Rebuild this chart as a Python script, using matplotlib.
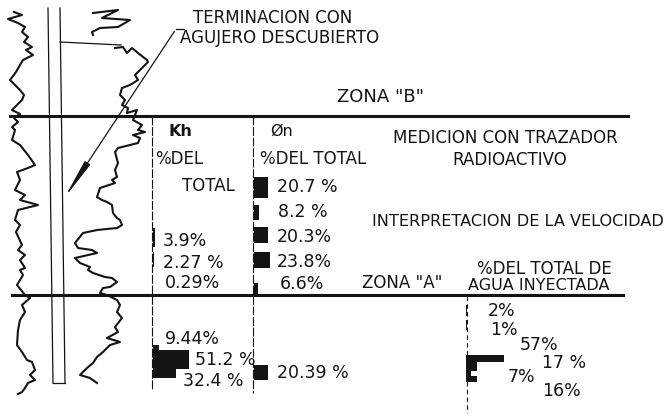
import matplotlib.pyplot as plt
from matplotlib.patches import FancyArrowPatch

# profundidad en px del esquema (0 arriba)
# registro izquierdo
log1_depth = [12, 15, 19, 23, 27, 32, 37, 42, 47, 50, 55, 60, 65, 72, 80, 85, 90, 95, 100, 106,
              110, 114, 118, 122, 127, 130, 140, 145, 155, 165, 168, 172, 180, 190, 195, 200,
              205, 210, 220, 225, 232, 245, 250, 255, 260, 268, 270, 275, 285, 295, 298, 305,
              312, 320, 330, 345, 352, 360, 362, 370, 375, 380, 383, 388, 392, 394]
log1_value = [14, 22, 8, 18, 25, 22, 28, 24, 32, 26, 33, 23, 20, 16, 10, 15, 20, 24, 22, 16,
              12, 20, 14, 18, 12, 15, 12, 20, 28, 35, 28, 17, 20, 15, 25, 20,
              38, 18, 15, 20, 16, 22, 18, 25, 20, 25, 20, 23, 17, 25, 30, 22,
              25, 20, 18, 17, 22, 27, 32, 35, 30, 35, 28, 25, 22, 18]

# registro derecho (tramo superior)
log2a_depth = [13, 10, 18, 20, 27, 28, 32, 35]
log2a_value = [93, 118, 102, 130, 118, 100, 92, 93]

# registro derecho (tramo principal)
log2_depth = [48, 47, 53, 48, 53, 60, 62, 70, 75, 80, 85, 88, 95, 100, 105, 108, 113, 110,
              120, 125, 130, 132, 135, 138, 143, 148, 152, 163, 170, 177, 180, 183, 188,
              197, 200, 202, 205, 213, 218, 220, 225, 228, 230, 233, 243, 248, 250, 253,
              258, 263, 267, 270, 273, 277, 278, 282, 287, 288, 293, 295, 300, 305, 312,
              318, 327, 332, 338, 342, 345, 352, 357, 363, 368, 375, 378, 383]
log2_value = [115, 123, 127, 132, 138, 147, 148, 140, 135, 138, 130, 122, 120, 125, 122, 128,
              127, 137, 133, 142, 138, 145, 133, 140, 138, 118, 115, 118, 115, 117, 112, 115,
              100, 97, 102, 107, 112, 113, 117, 120, 122, 117, 97, 83, 75, 78, 92, 97,
              75, 80, 90, 88, 93, 105, 112, 117, 110, 103, 100, 107, 117, 120, 117,
              122, 115, 118, 107, 120, 110, 103, 97, 93, 87, 80, 90, 97]

# Kh, % del total
kh_vals = [3.9, 2.27, 0.29, 9.44, 51.2, 32.4]
kh_top = [228, 252, 273, 345, 350, 369]
kh_bot = [247, 267, 278, 350, 369, 378]
kh_labels = ["3.9%", "2.27 %", "0.29%", "9.44%", "51.2 %", "32.4 %"]

# Øn, % del total
on_vals = [20.7, 8.2, 20.3, 23.8, 6.6, 20.39]
on_top = [177, 205, 227, 252, 283, 365]
on_bot = [198, 220, 243, 268, 294, 380]
on_labels = ["20.7 %", "8.2 %", "20.3%", "23.8%", "6.6%", "20.39 %"]

# % del total de agua inyectada
agua_vals = [2, 1, 57, 17, 7, 16]
agua_top = [305, 320, 355, 362, 371, 376]
agua_bot = [316, 330, 362, 371, 376, 382]
agua_labels = ["2%", "1%", "57%", "17 %", "7%", "16%"]

K = '#141414'
plt.rcParams['font.family'] = ['DejaVu Sans']

fig = plt.figure(figsize=(6.65, 4.18), dpi=100)
ax = fig.add_axes([0, 0, 1, 1])
ax.set_xlim(0, 665)
ax.set_ylim(418, 0)
ax.axis('off')

# registros
ax.plot(log1_value, log1_depth, color=K, lw=1.5)
ax.plot(log2a_value, log2a_depth, color=K, lw=1.5)
ax.plot(log2_value, log2_depth, color=K, lw=1.5)

# pozo
ax.plot([48, 53], [8, 383], color=K, lw=0.9)
ax.plot([60, 65], [8, 383], color=K, lw=0.9)
ax.plot([53, 65], [383, 383], color=K, lw=0.9)
ax.plot([60, 121], [42, 45], color=K, lw=0.9)

# limites de zonas
ax.plot([10, 628], [116, 116], color=K, lw=2.2)
ax.plot([12, 623], [295, 295], color=K, lw=2.2)

# columnas
ax.plot([152, 152], [116, 390], color=K, lw=0.8, ls=(0, (8, 1.5)))
ax.plot([253, 253], [116, 393], color=K, lw=0.8, ls=(0, (8, 1.5)))
ax.plot([467, 467], [296, 413], color=K, lw=0.8, ls=(0, (4, 3)))

# flecha de la terminacion
ax.plot([176, 184], [29, 29], color=K, lw=0.9)
ax.add_patch(FancyArrowPatch((176, 29), (63, 200), arrowstyle='-|>,head_length=11,head_width=0.9',
                             color=K, lw=0.9, mutation_scale=2.2))

# barras
ax.barh([(a + b) / 2 for a, b in zip(kh_top, kh_bot)], [v * 0.72 for v in kh_vals],
        height=[b - a for a, b in zip(kh_top, kh_bot)], left=152.5, color=K, lw=0)
ax.barh([(a + b) / 2 for a, b in zip(on_top, on_bot)], [v * 0.67 for v in on_vals],
        height=[b - a for a, b in zip(on_top, on_bot)], left=254, color=K, lw=0)
ax.barh([(a + b) / 2 for a, b in zip(agua_top, agua_bot)], [v * 0.67 for v in agua_vals],
        height=[b - a for a, b in zip(agua_top, agua_bot)], left=466, color=K, lw=0)

# etiquetas de valores
kh_lx = [163, 163, 165, 165, 195, 183]
kh_ly = [241, 263, 283, 339, 360, 381]
for x, y, t in zip(kh_lx, kh_ly, kh_labels):
    ax.text(x, y, t, fontsize=12.5, color=K, ha='left', va='center')
on_lx = [277, 278, 277, 277, 280, 277]
on_ly = [187, 212, 237, 262, 284, 373]
for x, y, t in zip(on_lx, on_ly, on_labels):
    ax.text(x, y, t, fontsize=12.5, color=K, ha='left', va='center')
ag_lx = [488, 490, 520, 542, 508, 542]
ag_ly = [311, 330, 345, 363, 377, 391]
for x, y, t in zip(ag_lx, ag_ly, agua_labels):
    ax.text(x, y, t, fontsize=12.5, color=K, ha='left', va='center')

# textos
ts = dict(color=K, ha='left', va='center', fontsize=12)
ax.text(193, 18, "TERMINACION CON", **ts)
ax.text(180, 38, "AGUJERO DESCUBIERTO", **ts)
ax.text(337, 97, 'ZONA "B"', color=K, ha='left', va='center', fontsize=13)
ax.text(168, 131, "Kh", color=K, ha='left', va='center', fontsize=11.5, fontweight='bold')
ax.text(270, 131, "Øn", color=K, ha='left', va='center', fontsize=11.5)
ax.text(155, 159, "%DEL", **ts)
ax.text(182, 186, "TOTAL", **ts)
ax.text(260, 159, "%DEL TOTAL", **ts)
ax.text(505, 138, "MEDICION CON TRAZADOR", color=K, ha='center', va='center', fontsize=12)
ax.text(510, 160, "RADIOACTIVO", color=K, ha='center', va='center', fontsize=12)
ax.text(372, 221, "INTERPRETACION DE LA VELOCIDAD", color=K, ha='left', va='center', fontsize=11.6)
ax.text(362, 283, 'ZONA "A"', **ts)
ax.text(477, 269, "%DEL TOTAL DE", **ts)
ax.text(468, 285, "AGUA INYECTADA", color=K, ha='left', va='center', fontsize=11.5)

fig.savefig("out.png", dpi=100, facecolor='white')
